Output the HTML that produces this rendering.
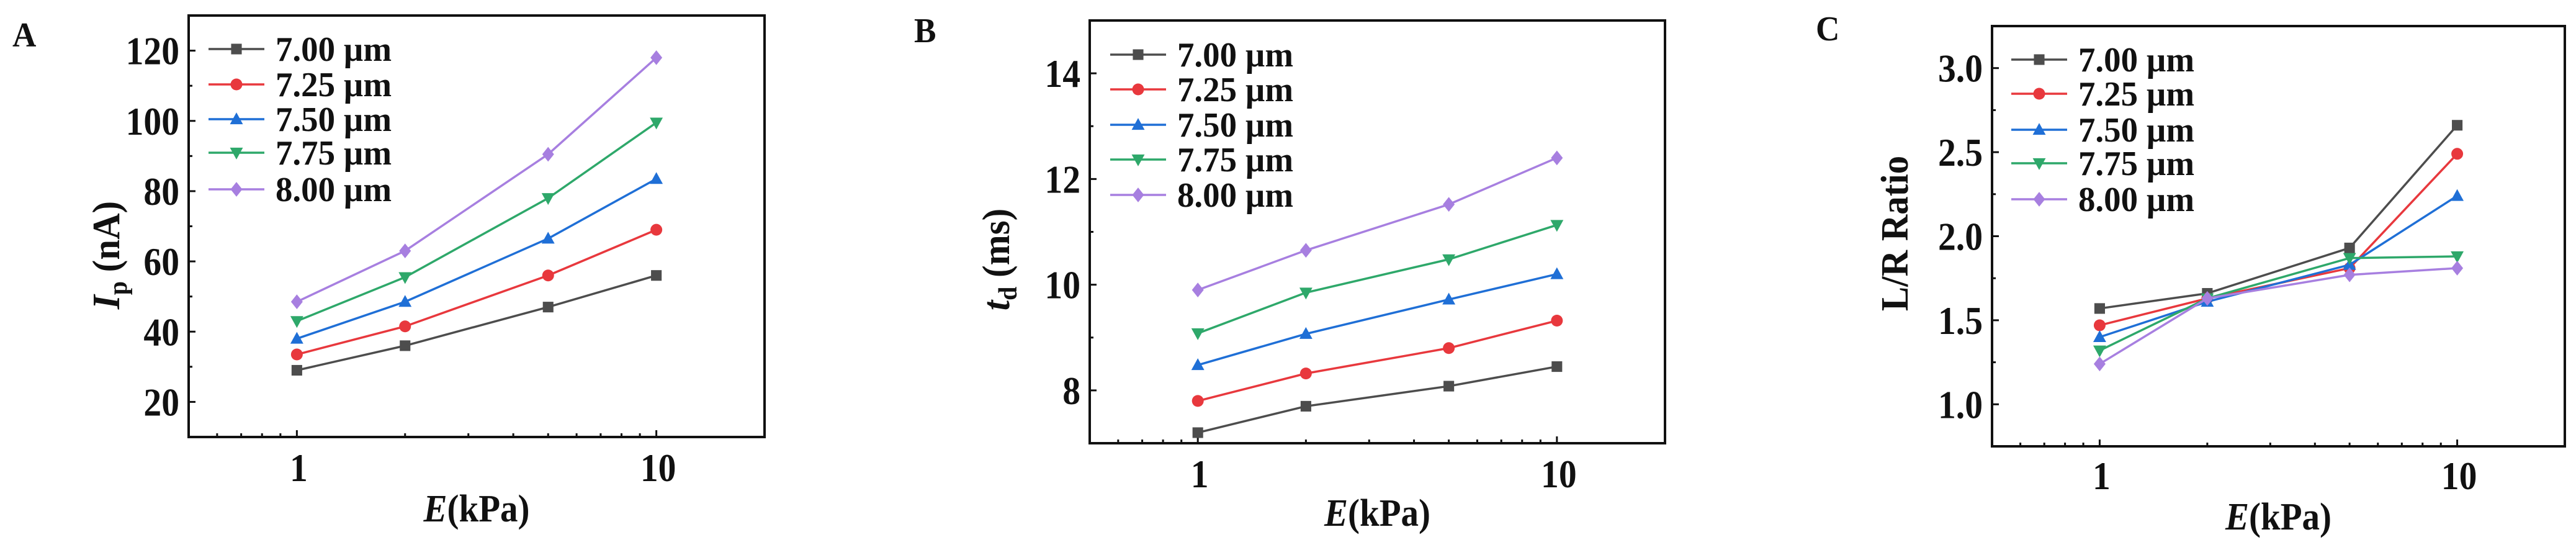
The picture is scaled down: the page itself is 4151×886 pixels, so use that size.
<!DOCTYPE html>
<html><head><meta charset="utf-8"><style>
html,body{margin:0;padding:0;background:#fff;}
svg{display:block;font-family:"Liberation Serif",serif;font-weight:bold;}
</style></head><body>
<svg id="fig" width="4151" height="886" viewBox="0 0 4151 886" xmlns="http://www.w3.org/2000/svg"></svg>
<script>
const xCategories = [1, 2, 5, 10];
const seriesNames = ["7.00 µm","7.25 µm","7.50 µm","7.75 µm","8.00 µm"];
const ipValues700 = [29, 36, 47, 56];
const ipValues725 = [33.5, 41.5, 56, 69];
const ipValues750 = [38, 48.5, 66.5, 83.5];
const ipValues775 = [43, 55.5, 78, 99.5];
const ipValues800 = [48.5, 63, 90.5, 118];
const tdValues700 = [7.2, 7.7, 8.08, 8.45];
const tdValues725 = [7.8, 8.32, 8.8, 9.32];
const tdValues750 = [8.48, 9.07, 9.72, 10.2];
const tdValues775 = [9.08, 9.85, 10.48, 11.13];
const tdValues800 = [9.9, 10.65, 11.52, 12.4];
const lrValues700 = [1.57, 1.66, 1.93, 2.66];
const lrValues725 = [1.47, 1.63, 1.81, 2.49];
const lrValues750 = [1.40, 1.61, 1.83, 2.24];
const lrValues775 = [1.32, 1.63, 1.87, 1.88];
const lrValues800 = [1.24, 1.63, 1.77, 1.81];
const ipTicks = [20, 40, 60, 80, 100, 120];
const tdTicks = [8, 10, 12, 14];
const lrTicks = ["1.0", "1.5", "2.0", "2.5", "3.0"];
const xTicks = [1, 10];

const colors = ["#4d4d4d","#e8383d","#1f6fd6","#2ea86a","#a77fe0"];
const markers = ["square","circle","up","down","diamond"];
const NS = "http://www.w3.org/2000/svg";
const svg = document.getElementById("fig");
function el(tag, attrs, parent){const e=document.createElementNS(NS,tag);for(const k in attrs)e.setAttribute(k,attrs[k]);(parent||svg).appendChild(e);return e;}

function marker(g, type, x, y, c){
  const s=9.5; let m;
  if(type==="square") m=el("rect",{x:x-s*0.9,y:y-s*0.9,width:s*1.8,height:s*1.8,fill:c},g);
  else if(type==="circle") m=el("circle",{cx:x,cy:y,r:s,fill:c},g);
  else if(type==="up") m=el("polygon",{points:`${x},${y-s*1.15} ${x+s*1.1},${y+s*0.85} ${x-s*1.1},${y+s*0.85}`,fill:c},g);
  else if(type==="down") m=el("polygon",{points:`${x},${y+s*1.15} ${x+s*1.1},${y-s*0.85} ${x-s*1.1},${y-s*0.85}`,fill:c},g);
  else m=el("polygon",{points:`${x},${y-s*1.25} ${x+s},${y} ${x},${y+s*1.25} ${x-s},${y}`,fill:c},g);
  return m;
}
function sText(parent, x, y, str, size, anchor, sx){
  const t=el("text",{transform:`translate(${x},${y}) scale(${sx||1},1)`,"font-size":size,"text-anchor":anchor||"start",fill:"#111"},parent);
  t.textContent=str; return t;
}

function panel(cfg){
  const g=el("g",{});
  
  
  const {L,R,T,B,ymin,ymax}=cfg;
  const xs=v=>L+(Math.log10(v)-Math.log10(0.5))/(Math.log10(20)-Math.log10(0.5))*(R-L);
  const ys=v=>B-(v-ymin)/(ymax-ymin)*(B-T);
  for(const d of [0.1,1,10]) for(let k=1;k<10;k++){const v=d*k; if(v<0.5||v>20) continue;
    const major=(v===1||v===10); const x=xs(v);
    el("line",{x1:x,y1:B,x2:x,y2:B-(major?11:6),stroke:"#111","stroke-width":3},g);}
  const tv=cfg.ticks.map(Number);
  const step=tv[1]-tv[0];
  for(let v=tv[0]-step/2; v<=ymax+1e-9; v+=step/2){ if(v<ymin) continue;
    const major=tv.some(t=>Math.abs(t-v)<1e-9); const y=ys(v);
    el("line",{x1:L,y1:y,x2:L+(major?11:6),y2:y,stroke:"#111","stroke-width":3},g);}
  cfg.ticks.forEach(t=>{const lbl=sText(g,L-15,ys(Number(t))+22,String(t),64,"end",0.9);
    
    });
  xTicks.forEach(t=>{const lbl=sText(g,xs(t)+3,cfg.xTickY,String(t),64,"middle",0.9);
    
    });
  cfg.series.forEach((vals,i)=>{
    const sg=el("g",{},g);
    
    
    const pts=vals.map((v,j)=>xs(xCategories[j])+","+ys(v)).join(" ");
    el("polyline",{points:pts,fill:"none",stroke:colors[i],"stroke-width":3.5},sg);
    vals.forEach((v,j)=>{const m=marker(sg,markers[i],xs(xCategories[j]),ys(v),colors[i]);
      
      });
  });
  el("rect",{x:L,y:T,width:R-L,height:B-T,fill:"none",stroke:"#111","stroke-width":4},g);
  const lg=el("g",{},g);
  
  
  cfg.legRows.forEach((y,i)=>{
    const e=el("g",{},lg);
    
    
    el("line",{x1:cfg.legX,y1:y,x2:cfg.legX+90,y2:y,stroke:colors[i],"stroke-width":3.5},e);
    marker(e,markers[i],cfg.legX+45,y,colors[i]);
    sText(e,cfg.legX+108,y+19,seriesNames[i],56,"start",0.98);
  });
  const pl=sText(g,cfg.letter[0],cfg.letter[1],cfg.letter[2],56,"start",0.95);
  
  
  const xt=el("text",{transform:`translate(${(L+R)/2},${cfg.xTitleY}) scale(0.92,1)`,"font-size":62,"text-anchor":"middle",fill:"#111"},g);
  
  
  xt.innerHTML='<tspan font-style="italic">E</tspan>(kPa)';
  const yt=el("text",{transform:`translate(${cfg.yTitle[0]},${cfg.yTitle[1]}) rotate(-90) scale(0.95,1)`,"font-size":62,"text-anchor":"middle",fill:"#111"},g);
  
  
  yt.innerHTML=cfg.yTitleHTML;
}

panel({name:"panel-a-peak-current",L:304,R:1232,T:25,B:704,ymin:10,ymax:130,ticks:ipTicks,
  series:[ipValues700,ipValues725,ipValues750,ipValues775,ipValues800],
  legX:336,legRows:[79,136,192,246,305],letter:[20,75,"A"],xTickY:775,xTitleY:840,
  yTitle:[192,411],yTitleHTML:'<tspan font-style="italic">I</tspan><tspan font-size="42" dy="12">p</tspan><tspan dy="-12"> (nA)</tspan>'});
panel({name:"panel-b-delay-time",L:1756,R:2683,T:33,B:714,ymin:7,ymax:15,ticks:tdTicks,
  series:[tdValues700,tdValues725,tdValues750,tdValues775,tdValues800],
  legX:1789,legRows:[88,144,201,257,314],letter:[1473,68,"B"],xTickY:785,xTitleY:847,
  yTitle:[1626,418],yTitleHTML:'<tspan font-style="italic">t</tspan><tspan font-size="42" dy="12">d</tspan><tspan dy="-12"> (ms)</tspan>'});
panel({name:"panel-c-lr-ratio",L:3210,R:4133,T:42,B:719,ymin:0.75,ymax:3.25,ticks:lrTicks,
  series:[lrValues700,lrValues725,lrValues750,lrValues775,lrValues800],
  legX:3241,legRows:[96,151,209,263,321],letter:[2926,65,"C"],xTickY:788,xTitleY:853,
  yTitle:[3074,376],yTitleHTML:'L/R Ratio'});
</script>
</body></html>
